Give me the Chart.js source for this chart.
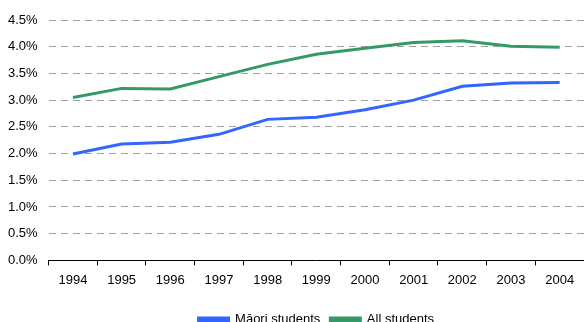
<!DOCTYPE html>
<html>
<head>
<meta charset="utf-8">
<script src="https://cdn.jsdelivr.net/npm/chart.js@4/dist/chart.umd.min.js"></script>
<style>
  html, body { margin: 0; padding: 0; background: #fff; overflow: hidden; }
  #wrap { width: 584px; height: 336px; }
</style>
</head>
<body>
<div id="wrap"><canvas id="c" width="584" height="336"></canvas></div>
<script>
// --------------------------------------------------
// Data (percent)
// --------------------------------------------------
const years = ["1994", "1995", "1996", "1997", "1998", "1999", "2000", "2001", "2002", "2003", "2004"];
const maori = [1.99, 2.18, 2.21, 2.36, 2.64, 2.68, 2.82, 3.00, 3.26, 3.32, 3.33];
const allStudents = [3.05, 3.22, 3.21, 3.44, 3.67, 3.86, 3.97, 4.08, 4.11, 4.01, 3.99];
const yTicks = [0, 0.5, 1, 1.5, 2, 2.5, 3, 3.5, 4, 4.5];

const BLUE = "#3366FF";
const GREEN = "#339966";
const FONT = { family: "'Liberation Sans', Arial, sans-serif", size: 13 };

new Chart(document.getElementById("c").getContext("2d"), {
  type: "line",
  data: {
    labels: years,
    datasets: [
      {
        label: "Māori students",
        data: maori,
        borderColor: BLUE,
        backgroundColor: BLUE,
        borderWidth: 3,
        pointRadius: 0,
        tension: 0
      },
      {
        label: "All students",
        data: allStudents,
        borderColor: GREEN,
        backgroundColor: GREEN,
        borderWidth: 3,
        pointRadius: 0,
        tension: 0
      }
    ]
  },
  options: {
    responsive: false,
    animation: false,
    layout: { padding: { top: 20, left: 8, right: 0, bottom: 0 } },
    plugins: {
      tooltip: { enabled: false },
      legend: {
        position: "bottom",
        fullSize: false, // centre under the plot area, not the canvas
        labels: {
          font: FONT,
          color: "#000",
          boxWidth: 30,
          boxHeight: 3,
          padding: 10
        }
      }
    },
    scales: {
      x: {
        offset: true,
        grid: {
          display: true,
          offset: true,
          drawOnChartArea: false,
          drawTicks: true,
          tickLength: 5,
          color: "#000"
        },
        border: { display: true, color: "#000", width: 1 },
        ticks: { font: FONT, color: "#000", padding: 7, maxRotation: 0 },
        afterFit: s => { s.height += 8; }
      },
      y: {
        min: 0,
        max: 4.5,
        afterBuildTicks: s => { s.ticks = yTicks.map(v => ({ value: v })); },
        grid: {
          color: "#a0a0a0",
          lineWidth: 1,
          drawTicks: false
        },
        // v4: grid line dashes come from border.dash
        border: { display: true, color: "rgba(0,0,0,0)", width: 1, dash: [7, 5] },
        ticks: {
          font: FONT,
          color: "#000",
          padding: 11,
          callback: v => v.toFixed(1) + "%"
        },
        // axis reserves the padding twice, take the extra back
        afterFit: s => { s.width -= 11; }
      }
    }
  }
});
</script>
</body>
</html>
